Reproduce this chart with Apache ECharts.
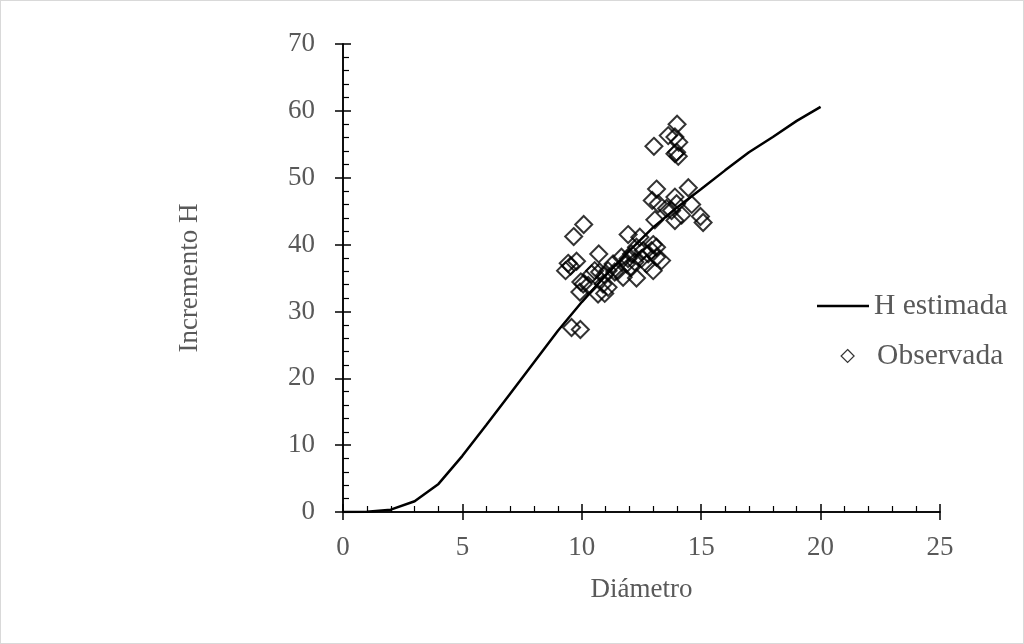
<!DOCTYPE html>
<html>
<head>
<meta charset="utf-8">
<script src="https://cdn.jsdelivr.net/npm/echarts@6/dist/echarts.min.js"></script>
<style>
html,body{margin:0;padding:0;background:#fff;}
#c{width:1024px;height:644px;box-sizing:border-box;border:1px solid #d9d9d9;}
</style>
</head>
<body>
<div id="c"></div>
<script>
const lineX = [0,1,2,3,4,5,6,7,8,9,10,11,12,13,14,15,16,17,18,19,20];
const lineY = [0,0.05,0.35,1.6,4.2,8.4,13.0,17.7,22.4,27.1,31.4,35.4,39.1,42.6,45.6,48.3,51.1,53.8,56.1,58.5,60.6];

const obsX = [13.99,13.62,13.90,14.06,13.02,13.90,14.04,13.97,
  13.13,14.46,12.95,13.20,13.90,13.97,13.55,14.60,14.18,13.90,14.97,15.08,13.06,13.76,
  10.08,9.66,9.78,9.43,9.32,9.53,9.57,9.94,9.96,9.92,10.27,
  10.71,10.54,10.75,10.96,10.68,10.96,11.10,10.41,10.89,11.94,12.43,12.29,11.66,11.87,12.08,11.52,11.73,12.29,
  12.99,12.78,13.13,13.34,12.99,12.71,12.50,11.31,11.10,12.08,12.57,11.38,11.94,12.22,12.92,13.13,10.06];
const obsY = [58.0,56.3,56.1,55.3,54.7,53.6,53.2,53.8,
  48.3,48.5,46.6,46.1,47.1,46.1,45.4,46.0,44.4,43.6,44.2,43.3,43.7,45.1,
  43.0,41.2,37.5,37.2,36.1,36.8,27.6,27.3,34.4,32.9,33.9,
  38.6,36.1,35.9,35.4,32.6,32.7,33.6,35.6,34.1,41.5,41.1,39.6,38.1,37.1,38.6,36.1,35.1,35.0,
  40.0,38.6,38.1,37.6,36.1,37.1,37.9,37.1,36.1,36.6,39.1,35.9,37.9,37.4,39.1,39.6,34.1];

const xTicks = {min:0, max:25, interval:5};
const yTicks = {min:0, max:70, interval:10};

const FONT = 'Liberation Serif';
const TXT = '#595959';
const FS = 27;
const LFS = 29.5;

const chart = echarts.init(document.getElementById('c'), null, {renderer:'canvas'});
const axLine = {show:true, onZero:false, lineStyle:{color:'#000', width:1.5}};

chart.setOption({
  animation:false,
  backgroundColor:'#fff',
  grid:{left:342, top:43, width:597, height:468, containLabel:false},
  legend:[
    {data:[{name:'H estimada', icon:'rect'}], left:811, top:285, orient:'vertical', itemWidth:52, itemHeight:2.5,
     itemStyle:{color:'#000', borderWidth:0},
     textStyle:{fontFamily:FONT, fontSize:LFS, color:TXT, padding:[0,0,0,0]}},
    {data:[{name:'Observada', icon:'diamond'}], left:834.5, top:335, orient:'vertical', itemWidth:13, itemHeight:13,
     itemStyle:{color:'transparent', borderColor:'#000', borderWidth:1.2},
     textStyle:{fontFamily:FONT, fontSize:LFS, color:TXT, padding:[0,0,0,18]}}
  ],
  xAxis:[
    {type:'value', min:xTicks.min, max:xTicks.max, interval:xTicks.interval, position:'bottom',
     name:'Diámetro', nameLocation:'middle', nameGap:64,
     nameTextStyle:{fontFamily:FONT, fontSize:FS, color:TXT},
     axisLine:axLine, axisTick:{show:true, inside:false, length:8, lineStyle:{color:'#000', width:1.5}},
     axisLabel:{fontFamily:FONT, fontSize:FS, color:TXT, margin:22},
     splitLine:{show:false}},
    {type:'value', min:xTicks.min, max:xTicks.max, interval:xTicks.interval, position:'bottom',
     axisLine:axLine, axisTick:{show:true, inside:true, length:8, lineStyle:{color:'#000', width:1.5}},
     minorTick:{show:true, splitNumber:5, length:6, lineStyle:{color:'#000', width:1.2}},
     axisLabel:{show:false}, splitLine:{show:false}}
  ],
  yAxis:[
    {type:'value', min:yTicks.min, max:yTicks.max, interval:yTicks.interval, position:'left',
     name:'Incremento H', nameLocation:'middle', nameGap:140, nameRotate:90,
     nameTextStyle:{fontFamily:FONT, fontSize:FS, color:TXT},
     axisLine:axLine, axisTick:{show:true, inside:false, length:8, lineStyle:{color:'#000', width:1.5}},
     axisLabel:{fontFamily:FONT, fontSize:FS, color:TXT, margin:28},
     splitLine:{show:false}},
    {type:'value', min:yTicks.min, max:yTicks.max, interval:yTicks.interval, position:'left',
     axisLine:axLine, axisTick:{show:true, inside:true, length:8, lineStyle:{color:'#000', width:1.5}},
     minorTick:{show:true, splitNumber:5, length:6, lineStyle:{color:'#000', width:1.2}},
     axisLabel:{show:false}, splitLine:{show:false}}
  ],
  series:[
    {name:'H estimada', type:'line', xAxisIndex:0, yAxisIndex:0, symbol:'none',
     data:lineX.map((x,i)=>[x,lineY[i]]),
     lineStyle:{color:'#000', width:2.5}, itemStyle:{color:'#000'}, z:3},
    {name:'Observada', type:'scatter', xAxisIndex:0, yAxisIndex:0, symbol:'diamond', symbolSize:17,
     data:obsX.map((x,i)=>[x,obsY[i]]),
     itemStyle:{color:'transparent', borderColor:'#000', borderWidth:2}, z:4}
  ]
});
</script>
</body>
</html>
